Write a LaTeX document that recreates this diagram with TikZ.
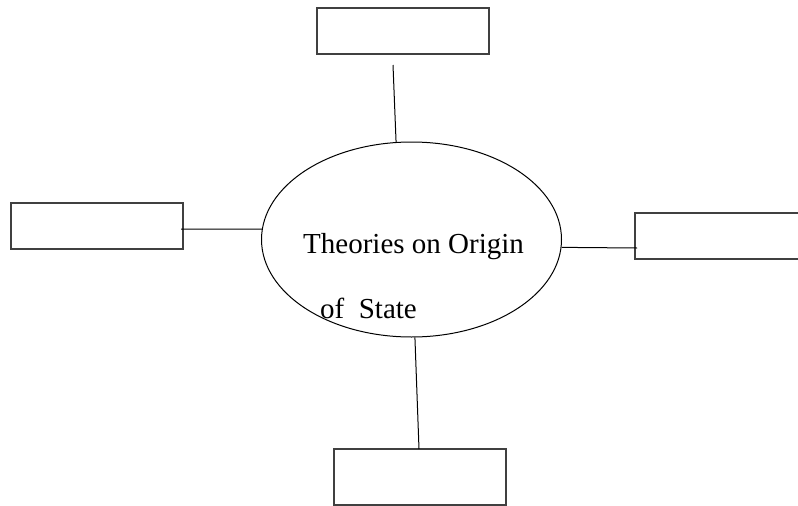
\documentclass[tikz,border=0pt]{standalone}
\usepackage{fontspec}
\setmainfont{Liberation Serif}
\usetikzlibrary{shapes.geometric}
\begin{document}
\begin{tikzpicture}[x=1pt,y=-1pt,
  box/.style={draw=black!75,line width=1.1pt,rectangle,inner sep=0pt},
  conn/.style={draw=black,line width=1pt},
  lbl/.style={inner sep=0pt,anchor=base west,font=\fontsize{29}{35}\selectfont}]
\useasboundingbox (0,0) rectangle (798,506);
\begin{scope}
\clip (0,0) rectangle (798,506);
\node[box,minimum width=172pt,minimum height=46pt] (top) at (403,31) {};
\node[box,minimum width=172pt,minimum height=46pt] (left) at (97,226) {};
\node[box,minimum width=175pt,minimum height=46pt] (right) at (722.5,236) {};
\node[box,minimum width=172pt,minimum height=56pt] (bottom) at (420,477) {};
\end{scope}
\node[draw=black,line width=1pt,ellipse,minimum width=300pt,minimum height=195pt,inner sep=0pt] (center) at (411.5,239.5) {};
\node[lbl] (t1) at (303,253) {Theories on Origin};
\node[lbl] (t2) at (320,318) {of\hspace{0.5em}State};
\coordinate (topend) at (393,65);
\coordinate (leftend) at (181,229);
\coordinate (rightend) at (637,248);
\coordinate (bottomend) at (419,449);
\draw[conn] (topend) -- (center.99.7);
\draw[conn] (leftend) -- (center.176);
\draw[conn] (center.-3.2) -- (rightend);
\draw[conn] (center.-88) -- (bottomend);
\end{tikzpicture}
\end{document}
